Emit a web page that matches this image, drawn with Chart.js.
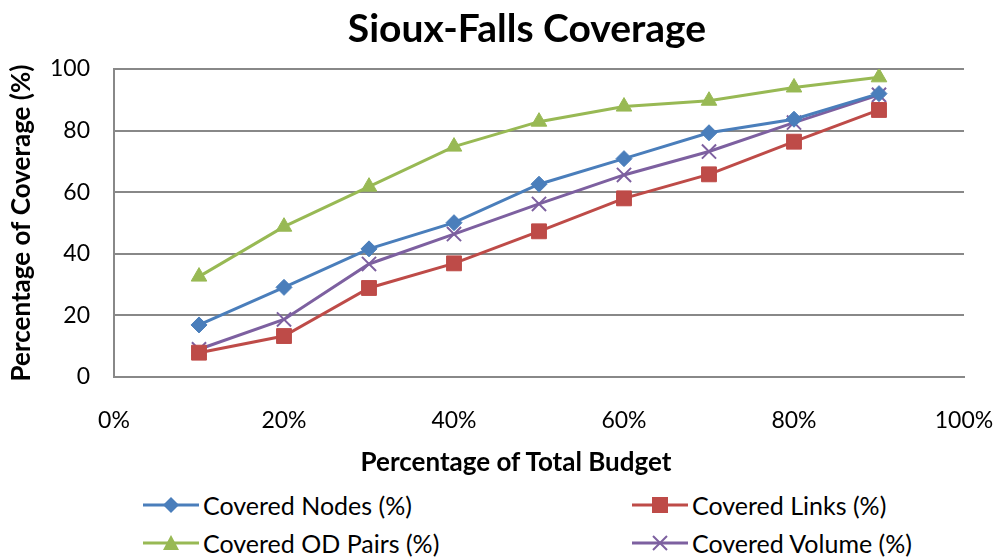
<!DOCTYPE html>
<html>
<head>
<meta charset="utf-8">
<script src="https://cdn.jsdelivr.net/npm/chart.js@4"></script>
<style>
  html, body { margin: 0; padding: 0; background: #fff; }
  body { width: 998px; height: 558px; position: relative; overflow: hidden; font-family: Lato, "Open Sans", sans-serif; }
  #wrap { position: absolute; left: 0; top: 0; width: 998px; height: 480px; }
  .txt { position: absolute; transform: translate(-50%, -50%); white-space: nowrap; color: #000; font-weight: bold; }
  #title { left: 527px; top: 27px; font-size: 39px; }
  #xtitle { left: 516px; top: 461px; font-size: 26px; }
  .leg { position: absolute; display: flex; align-items: center; font-size: 25px; color: #000; white-space: nowrap; }
  .leg svg { margin-right: 4px; }
</style>
</head>
<body>
<div id="wrap"><canvas id="chart"></canvas></div>
<div class="txt" id="title">Sioux-Falls Coverage</div>
<div class="txt" id="xtitle">Percentage of Total Budget</div>
<div id="legend"></div>
<script>
// budget share (x, %) and coverage values
const budget = [10, 20, 30, 40, 50, 60, 70, 80, 90];
const coveredNodes = [16.9, 29.1, 41.6, 50.1, 62.6, 70.9, 79.3, 83.7, 92.0];
const coveredLinks = [7.9, 13.3, 28.9, 36.9, 47.3, 58.0, 65.8, 76.4, 86.7];
const coveredOD = [32.6, 48.8, 61.8, 74.8, 82.9, 87.8, 89.7, 94.0, 97.3];
const coveredVolume = [9.0, 18.7, 36.7, 46.4, 56.2, 65.6, 73.2, 82.6, 91.6];
const xTicks = [0, 20, 40, 60, 80, 100];
const yTicks = [0, 20, 40, 60, 80, 100];

const FONT = "Lato";

const series = [
  { label: "Covered Nodes (%)", data: coveredNodes, color: "#4A7EBB", style: "rectRot", r: 8 },
  { label: "Covered Links (%)", data: coveredLinks, color: "#BE4B48", style: "rect", r: 10.5 },
  { label: "Covered OD Pairs (%)", data: coveredOD, color: "#98B954", style: "triangle", r: 9 },
  { label: "Covered Volume (%)", data: coveredVolume, color: "#7D60A0", style: "crossRot", r: 10 },
];

const datasets = series.map(s => ({
  label: s.label,
  data: budget.map((b, i) => ({ x: b, y: s.data[i] })),
  borderColor: s.color,
  backgroundColor: s.color,
  borderWidth: 3,
  pointStyle: s.style,
  pointRadius: s.r,
  pointBorderWidth: s.style === "crossRot" ? 2 : 1,
  pointBorderColor: s.color,
  pointBackgroundColor: s.color,
  tension: 0,
}));

new Chart(document.getElementById("chart"), {
  type: "line",
  data: { datasets },
  options: {
    responsive: true,
    maintainAspectRatio: false,
    animation: false,
    layout: { padding: { left: 0, right: 34, top: 69, bottom: 0 } },
    plugins: {
      legend: { display: false },
      tooltip: { enabled: false },
    },
    scales: {
      x: {
        type: "linear",
        min: 0,
        max: 100,
        afterBuildTicks: s => { s.ticks = xTicks.map(v => ({ value: v })); },
        afterFit: s => { s.height = 103; s.paddingLeft = 0; s.paddingRight = 0; },
        ticks: {
          padding: 30,
          color: "#000",
          font: { family: FONT, size: 23 },
          callback: v => v + "%",
        },
        grid: { display: false, drawTicks: false },
        border: { display: true, color: "#888", width: 2 },
      },
      y: {
        min: 0,
        max: 100,
        afterBuildTicks: s => { s.ticks = yTicks.map(v => ({ value: v })); },
        afterFit: s => { s.width = 114; s.paddingTop = 0; s.paddingBottom = 0; },
        ticks: {
          padding: 24,
          color: "#000",
          font: { family: FONT, size: 23 },
        },
        grid: { color: "#888", lineWidth: 2, drawTicks: false },
        border: { display: true, color: "#888", width: 2 },
        title: {
          display: true,
          text: "Percentage of Coverage (%)",
          color: "#000",
          font: { family: FONT, size: 26, weight: "bold" },
          padding: { top: 6, bottom: 0 },
        },
      },
    },
  },
});

// legend in two columns, like the original
function markerSvg(s) {
  const c = s.color;
  let m = "";
  if (s.style === "rectRot") m = `<polygon points="28,3 36,11 28,19 20,11" fill="${c}"/>`;
  if (s.style === "rect") m = `<rect x="20" y="3" width="16" height="16" fill="${c}"/>`;
  if (s.style === "triangle") m = `<polygon points="28,3 36,18 20,18" fill="${c}"/>`;
  if (s.style === "crossRot") m = `<path d="M21,4 L35,18 M35,4 L21,18" stroke="${c}" stroke-width="2"/>`;
  return `<svg width="56" height="22"><line x1="0" y1="11" x2="56" y2="11" stroke="${c}" stroke-width="3"/>${m}</svg>`;
}
const legPos = [
  { left: 143, top: 505 }, { left: 632, top: 505 },
  { left: 143, top: 543 }, { left: 632, top: 543 },
];
document.getElementById("legend").innerHTML = series.map((s, i) =>
  `<div class="leg" style="left:${legPos[i].left}px;top:${legPos[i].top - 16}px;height:32px">${markerSvg(s)}<span>${s.label}</span></div>`
).join("");
</script>
</body>
</html>
